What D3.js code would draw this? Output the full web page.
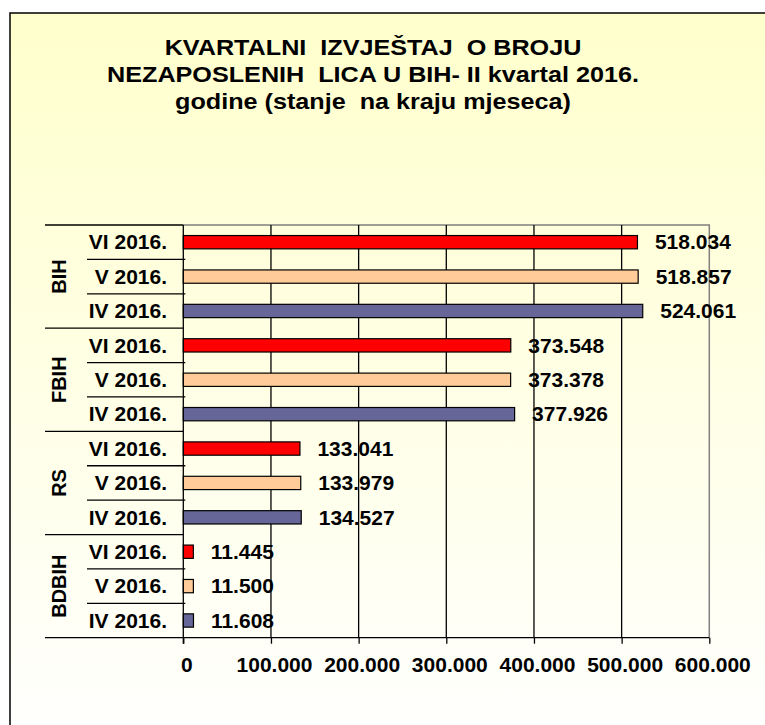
<!DOCTYPE html>
<html><head><meta charset="utf-8">
<script src="https://cdn.jsdelivr.net/npm/d3@7"></script>
<style>
html,body{margin:0;padding:0;background:#fff;}
svg{display:block;}
text{font-family:"Liberation Sans",Arial,sans-serif;font-weight:bold;fill:#000;}
</style></head>
<body>
<svg id="chart" width="765" height="725"></svg>
<script>
// ---- data ----
const titleLines = ["KVARTALNI  IZVJEŠTAJ  O BROJU", "NEZAPOSLENIH  LICA U BIH- II kvartal 2016.", "godine (stanje  na kraju mjeseca)"];
const groups = ["BIH", "FBIH", "RS", "BDBIH"];
const months = ["VI 2016.", "V 2016.", "IV 2016."];
const valuesVI = [518034, 373548, 133041, 11445];
const valuesV  = [518857, 373378, 133979, 11500];
const valuesIV = [524061, 377926, 134527, 11608];
const seriesColors = ["#FF0000", "#FFCC99", "#666699"];
const xTicks = [0, 100000, 200000, 300000, 400000, 500000, 600000];

const seriesValues = [valuesVI, valuesV, valuesIV];
const rows = [];
groups.forEach((g, gi) => months.forEach((m, mi) => rows.push({key: g + "|" + m, group: g, month: m, value: seriesValues[mi][gi], color: seriesColors[mi]})));

const loc = d3.formatLocale({decimal: ",", thousands: ".", grouping: [3], currency: ["", ""]});
const fmt = loc.format(",d");

const FS = 20, SX = 1.05;

const svg = d3.select("#chart");
const defs = svg.append("defs");
const grad = defs.append("linearGradient").attr("id", "bg").attr("x1", 0).attr("y1", 0).attr("x2", 0).attr("y2", 1);
grad.append("stop").attr("offset", "0%").attr("stop-color", "#FFFFCC");
grad.append("stop").attr("offset", "100%").attr("stop-color", "#FFFFFF");

// frame
svg.append("rect").attr("x", 10).attr("y", 13).attr("width", 780).attr("height", 740)
  .attr("fill", "url(#bg)").attr("stroke", "#000").attr("stroke-width", 1.5);

// title
svg.append("g").selectAll("text").data(titleLines).join("text")
  .attr("transform", (d, i) => `translate(373,${55 + i * 27}) scale(1.145,1)`)
  .attr("text-anchor", "middle").attr("font-size", 22).style("white-space", "pre").text(d => d);

// scales
const pLeft = 183.3, pRight = 709.3, pTop = 225, pBottom = 637.7;
const x = d3.scaleLinear().domain([0, 600000]).range([pLeft, pRight]);
const y = d3.scaleBand().domain(rows.map(r => r.key)).range([pTop, pBottom]).paddingInner(0).paddingOuter(0);
const bh = 13.3;

// plot border (gray top/right)
svg.append("path").attr("d", `M${pLeft},${pTop}H${pRight}V${pBottom}`).attr("fill", "none").attr("stroke", "#808080").attr("stroke-width", 1.5);

// gridlines
svg.append("g").selectAll("line").data(xTicks.slice(1, -1)).join("line")
  .attr("x1", d => x(d)).attr("x2", d => x(d)).attr("y1", pTop).attr("y2", pBottom)
  .attr("stroke", "#000").attr("stroke-width", 1.3);

// x axis
const xAxis = d3.axisBottom(x).tickValues(xTicks).tickFormat(d => fmt(d)).tickSize(6).tickPadding(14);
const gx = svg.append("g").attr("transform", `translate(0,${pBottom})`).call(xAxis);
gx.attr("font-family", null).attr("font-size", null);
gx.select(".domain").remove();
gx.selectAll(".tick line").attr("stroke", "#000").attr("stroke-width", 1.3);
gx.selectAll(".tick text").attr("font-size", FS).attr("fill", "#000")
  .attr("y", null).attr("dy", null)
  .attr("transform", `translate(3,34) scale(${SX},1)`);

// bars
svg.append("g").selectAll("rect").data(rows).join("rect")
  .attr("x", x(0)).attr("y", d => y(d.key) + y.bandwidth() / 2 - bh / 2)
  .attr("width", d => x(d.value) - x(0)).attr("height", bh)
  .attr("fill", d => d.color).attr("stroke", "#000").attr("stroke-width", 1.2);

// value labels
svg.append("g").selectAll("text").data(rows).join("text")
  .attr("transform", d => `translate(${x(d.value) + 17.5},${y(d.key) + y.bandwidth() / 2 + 7.2}) scale(${SX},1)`)
  .attr("font-size", FS).text(d => fmt(d.value));

// category axis
svg.append("line").attr("x1", pLeft).attr("x2", pLeft).attr("y1", pTop).attr("y2", pBottom + 6).attr("stroke", "#000").attr("stroke-width", 1.3);
svg.append("line").attr("x1", 45).attr("x2", pRight).attr("y1", pBottom).attr("y2", pBottom).attr("stroke", "#000").attr("stroke-width", 1.3);

// subcategory separators
svg.append("g").selectAll("line").data(rows.filter((r, i) => i % 3 !== 0)).join("line")
  .attr("x1", 87).attr("x2", pLeft + 2).attr("y1", d => y(d.key)).attr("y2", d => y(d.key))
  .attr("stroke", "#000").attr("stroke-width", 1.3);
// group separators
svg.append("g").selectAll("line").data(rows.filter((r, i) => i % 3 === 0)).join("line")
  .attr("x1", 45).attr("x2", pLeft).attr("y1", d => y(d.key)).attr("y2", d => y(d.key))
  .attr("stroke", "#000").attr("stroke-width", 1.3);

// month labels
svg.append("g").selectAll("text").data(rows).join("text")
  .attr("transform", d => `translate(167,${y(d.key) + y.bandwidth() / 2 + 7.2}) scale(${SX},1)`)
  .attr("text-anchor", "end").attr("font-size", FS).text(d => d.month);

// group labels
svg.append("g").selectAll("text").data(groups).join("text")
  .attr("transform", (g) => {
    const cy = (y(g + "|" + months[0]) + y(g + "|" + months[2]) + y.bandwidth()) / 2;
    return `translate(65.5,${cy}) scale(${SX},1) rotate(-90)`;
  })
  .attr("text-anchor", "middle").attr("font-size", FS).text(d => d);
</script>
</body></html>
